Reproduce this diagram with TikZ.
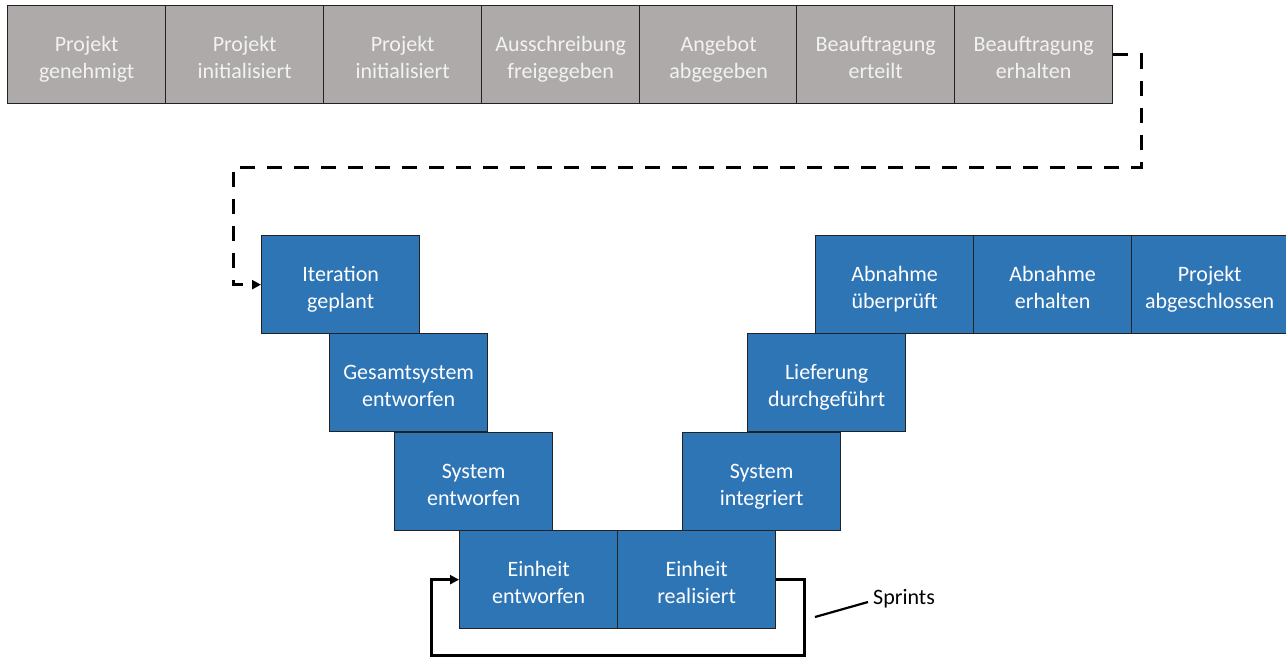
\documentclass[tikz,border=0pt]{standalone}
\usepackage{fontspec}
\setmainfont{Carlito}
\usetikzlibrary{arrows.meta}
\definecolor{boxgray}{HTML}{AEAAAA}
\definecolor{boxblue}{HTML}{2E75B6}
\definecolor{boxline}{HTML}{222222}
\definecolor{txtlight}{HTML}{F2F2F2}
\newcommand{\twol}[2]{\rule{0pt}{29pt}#1\\#2\rule[-8pt]{0pt}{0pt}}
\tikzset{
  stepbox/.style={draw=boxline, line width=1.3pt, minimum width=158pt, minimum height=98pt,
    inner sep=0pt, anchor=north west, align=center, text=txtlight,
    font=\fontsize{22}{27}\selectfont},
  graybox/.style={stepbox, fill=boxgray},
  bluebox/.style={stepbox, fill=boxblue, text=white},
  dashlink/.style={line width=3pt, dash pattern=on 15pt off 12pt, -{Triangle[length=9pt,width=9pt]}},
  looplink/.style={line width=3pt, -{Triangle[length=9pt,width=9pt]}},
}
\begin{document}
\begin{tikzpicture}[x=1pt,y=-1pt]
\useasboundingbox (0,0) rectangle (1286,657);
% top row
\node[graybox] (t1) at (7,5) {\twol{Projekt}{genehmigt}};
\node[graybox] (t2) at (165,5) {\twol{Projekt}{initialisiert}};
\node[graybox] (t3) at (323,5) {\twol{Projekt}{initialisiert}};
\node[graybox] (t4) at (481,5) {\twol{Ausschreibung}{freigegeben}};
\node[graybox] (t5) at (639,5) {\twol{Angebot}{abgegeben}};
\node[graybox] (t6) at (796,5) {\twol{Beauftragung}{erteilt}};
\node[graybox] (t7) at (954,5) {\twol{Beauftragung}{erhalten}};
% V
\node[bluebox] (b1) at (261,235) {\twol{Iteration}{geplant}};
\node[bluebox] (b2) at (329,333) {\twol{Gesamtsystem}{entworfen}};
\node[bluebox] (b3) at (394,432) {\twol{System}{entworfen}};
\node[bluebox] (b4) at (459,530) {\twol{Einheit}{entworfen}};
\node[bluebox] (b5) at (617,530) {\twol{Einheit}{realisiert}};
\node[bluebox] (b6) at (682,432) {\twol{System}{integriert}};
\node[bluebox] (b7) at (747,333) {\twol{Lieferung}{durchgeführt}};
\node[bluebox] (b8) at (815,235) {\twol{Abnahme}{überprüft}};
\node[bluebox] (b9) at (973,235) {\twol{Abnahme}{erhalten}};
\node[bluebox, minimum width=156pt] (b10) at (1131,235) {\twol{Projekt}{abgeschlossen}};
% dashed connector
\coordinate (d1) at (1141,167);
\coordinate (d2) at (233,167);
\draw[dashlink] (t7.east) -| (d1) -- (d2) |- (b1.west);
% sprint loop
\coordinate (s1) at (804,655);
\coordinate (s2) at (431,655);
\draw[looplink] (b5.east) -| (s1) -- (s2) |- (b4.west);
% label
\node[font=\fontsize{22}{27}\selectfont, inner sep=0pt, anchor=west] (sp) at (873,599) {Sprints};
\coordinate (l1) at (815,617);
\draw[line width=2.2pt] (l1) -- ([shift={(-5pt,-3pt)}]sp.west);
\end{tikzpicture}
\end{document}
